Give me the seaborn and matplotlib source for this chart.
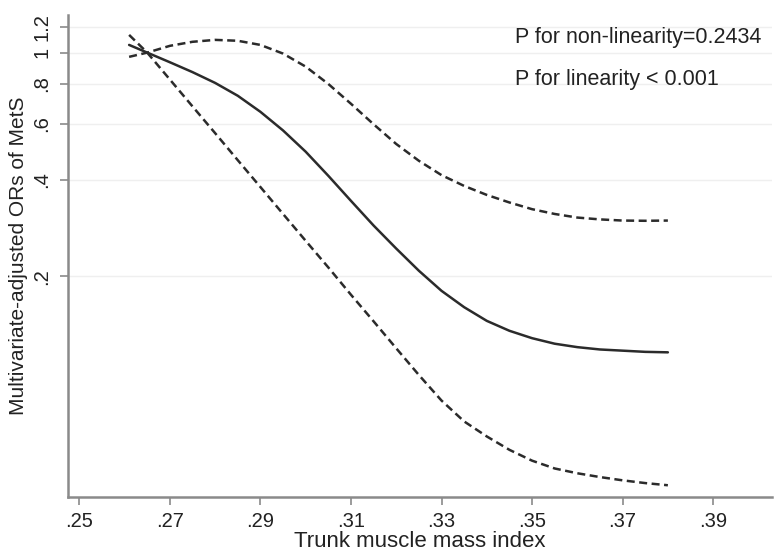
import numpy as np
import pandas as pd
import matplotlib
matplotlib.use("Agg")
import matplotlib.pyplot as plt
import seaborn as sns
from matplotlib.ticker import NullLocator

# values (OR on log scale)
tmmi = [0.261, 0.265, 0.27, 0.275, 0.28, 0.285, 0.29, 0.295, 0.30, 0.305,
        0.31, 0.315, 0.32, 0.325, 0.33, 0.335, 0.34, 0.345, 0.35, 0.355,
        0.36, 0.365, 0.37, 0.375, 0.38]
or_fit = [1.057, 1.0, 0.933, 0.869, 0.804, 0.733, 0.653, 0.571, 0.490, 0.412,
          0.344, 0.288, 0.244, 0.208, 0.180, 0.160, 0.145, 0.135, 0.128, 0.123,
          0.120, 0.118, 0.117, 0.116, 0.1156]
or_upper = [0.970, 1.0, 1.050, 1.081, 1.096, 1.089, 1.057, 0.993, 0.904, 0.798,
            0.692, 0.597, 0.518, 0.459, 0.414, 0.383, 0.359, 0.340, 0.324, 0.313,
            0.305, 0.301, 0.2985, 0.298, 0.2985]
or_lower = [1.136, 1.0, 0.824, 0.679, 0.560, 0.461, 0.380, 0.313, 0.258, 0.213,
            0.175, 0.1445, 0.119, 0.0982, 0.0817, 0.0703, 0.0631, 0.0573, 0.0530, 0.0501,
            0.0484, 0.0471, 0.0460, 0.0451, 0.0444]

x_ticks = [0.25, 0.27, 0.29, 0.31, 0.33, 0.35, 0.37, 0.39]
x_labels = [".25", ".27", ".29", ".31", ".33", ".35", ".37", ".39"]
y_ticks = [0.2, 0.4, 0.6, 0.8, 1.0, 1.2]
y_labels = [".2", ".4", ".6", ".8", "1", "1.2"]

sns.set_style("white")
plt.rcParams['font.family'] = ['Liberation Sans', 'DejaVu Sans']

fig = plt.figure(figsize=(7.76, 5.52), dpi=100)
ax = fig.add_axes([68/776, 1 - 497/552, 704/776, 482/552])

line_col = "#2b2b2b"
sns.lineplot(x=tmmi, y=or_fit, ax=ax, color=line_col, linewidth=1.8)
sns.lineplot(x=tmmi, y=or_upper, ax=ax, color=line_col, linewidth=1.8, linestyle=(0, (3.2, 1.8)))
sns.lineplot(x=tmmi, y=or_lower, ax=ax, color=line_col, linewidth=1.8, linestyle=(0, (3.2, 1.8)))

ax.set_yscale("log")
ax.set_xlim(0.2475, 0.403)
ax.set_ylim(0.0408, 1.311)
ax.set_yticks(y_ticks)
ax.set_yticklabels(y_labels, rotation=90, va="center")
ax.yaxis.set_minor_locator(NullLocator())
ax.set_xticks(x_ticks)
ax.set_xticklabels(x_labels)

for yt in y_ticks:
    ax.axhline(yt, color="#efefef", linewidth=1.0, zorder=0)

for side in ["top", "right"]:
    ax.spines[side].set_visible(False)
for side in ["left", "bottom"]:
    ax.spines[side].set_color("#8a8a8a")
    ax.spines[side].set_linewidth(1.8)

ax.tick_params(axis="both", which="major", direction="out", length=6, width=1.2,
               color="#8a8a8a", labelsize=14.5, labelcolor="#222222", left=True, bottom=True)
ax.tick_params(axis="y", pad=6)
ax.tick_params(axis="x", pad=5)

ax.set_xlabel("Trunk muscle mass index", fontsize=16, color="#222222", labelpad=0)
ax.set_ylabel("Multivariate-adjusted ORs of MetS", fontsize=15, color="#222222", labelpad=3)

ax.text(515/776, 1 - 37/552, "P for non-linearity=0.2434", transform=fig.transFigure,
        fontsize=15.5, color="#222222", va="center", ha="left")
ax.text(515/776, 1 - 80/552, "P for linearity < 0.001", transform=fig.transFigure,
        fontsize=15.5, color="#222222", va="center", ha="left")

fig.savefig("out.png", dpi=100)
